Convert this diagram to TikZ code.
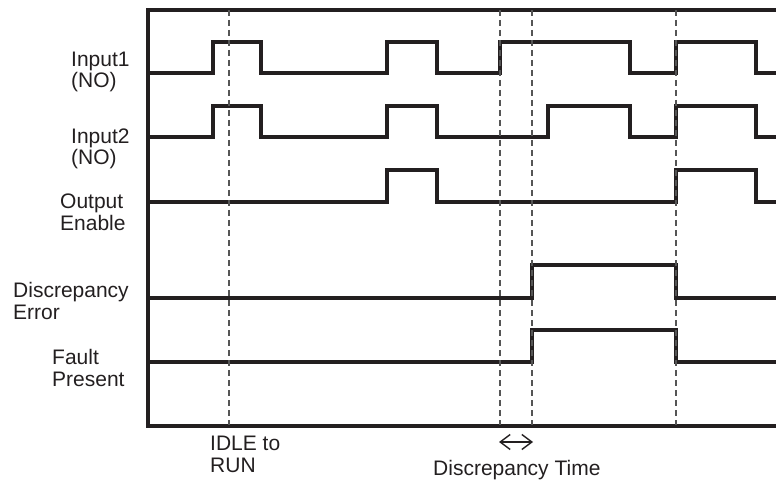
\documentclass[tikz,border=0pt]{standalone}
\usepackage{fontspec}
\setmainfont{Liberation Sans}
\usetikzlibrary{arrows.meta}
\definecolor{ink}{HTML}{231F20}
\definecolor{dashgray}{HTML}{555555}
\begin{document}
\begin{tikzpicture}[x=1pt,y=-1pt,
  signal/.style={draw=ink, line width=3.8pt, line join=miter},
  frameline/.style={draw=ink, line width=4pt, line join=miter},
  marker/.style={draw=dashgray, line width=1.5pt, dash pattern=on 6pt off 4pt},
  lbl/.style={inner sep=0pt, anchor=base west, align=left, text=ink,
    font=\fontsize{21}{21.7}\selectfont},
  span/.style={draw=ink, line width=1.4pt, {Straight Barb[length=10pt,width=15pt]}-{Straight Barb[length=10pt,width=15pt]}}
]
\useasboundingbox (0,0) rectangle (776,481);

% dashed time markers
\foreach \xx/\nm in {229/m1, 500/m2, 532/m3, 676/m4} {
  \coordinate (\nm top) at (\xx,10);
  \coordinate (\nm bot) at (\xx,425);
}

% signals
\draw[signal] (148,73.3) -- (213,73.3) -- (213,41.7) -- (261,41.7) -- (261,73.3)
  -- (387,73.3) -- (387,41.7) -- (437,41.7) -- (437,73.3)
  -- (500,73.3) -- (500,41.7) -- (630,41.7) -- (630,73.3)
  -- (676,73.3) -- (676,41.7) -- (756,41.7) -- (756,73.3) -- (776,73.3);
\draw[signal] (148,137.3) -- (213,137.3) -- (213,106) -- (261,106) -- (261,137.3)
  -- (387,137.3) -- (387,106) -- (437,106) -- (437,137.3)
  -- (548,137.3) -- (548,106) -- (630,106) -- (630,137.3)
  -- (676,137.3) -- (676,106) -- (756,106) -- (756,137.3) -- (776,137.3);
\draw[signal] (148,201.7) -- (387,201.7) -- (387,170) -- (437,170) -- (437,201.7)
  -- (676,201.7) -- (676,170) -- (756,170) -- (756,201.7) -- (776,201.7);
\draw[signal] (148,298.3) -- (532,298.3) -- (532,265) -- (676,265) -- (676,298.3) -- (776,298.3);
\draw[signal] (148,361.7) -- (532,361.7) -- (532,330) -- (676,330) -- (676,361.7) -- (776,361.7);

% frame
\draw[frameline] (776,10) -- (148,10) -- (148,425.5) -- (776,425.5);

\foreach \nm in {m1,m2,m3,m4} {
  \draw[marker] (\nm top) -- (\nm bot);
}

% labels (anchored at the baseline of the last line)
\node[lbl] (in1) at (71,88) {Input1\\(NO)};
\node[lbl] (in2) at (71,165) {Input2\\(NO)};
\node[lbl] (oe) at (60,230) {Output\\Enable};
\node[lbl] (de) at (13,319) {Discrepancy\\Error};
\node[lbl] (fp) at (52,386) {Fault\\Present};
\node[lbl] (idle) at (210,472) {IDLE to\\RUN};
\node[lbl] (dt) at (433,475) {Discrepancy Time};

\coordinate (arrL) at (499,442);
\coordinate (arrR) at (533,442);
\draw[span] (arrL) -- (arrR);
\end{tikzpicture}
\end{document}
